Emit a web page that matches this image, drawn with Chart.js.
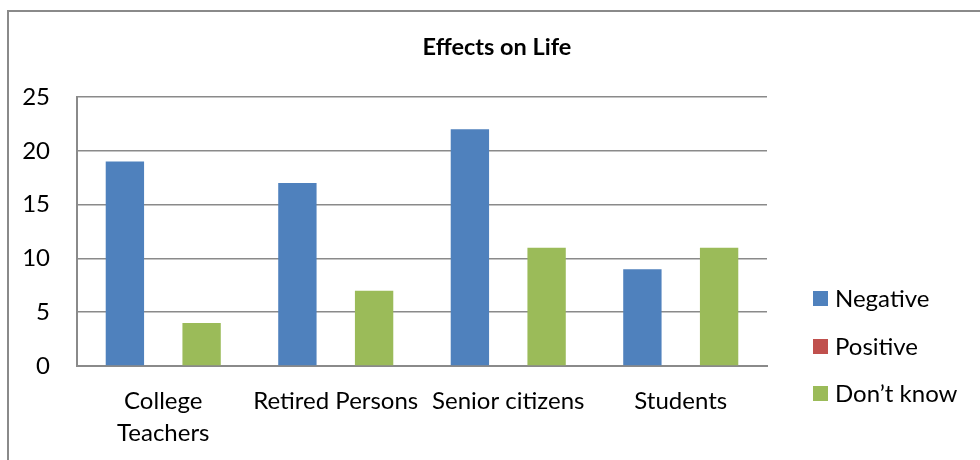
<!DOCTYPE html>
<html>
<head>
<meta charset="utf-8">
<script src="https://cdn.jsdelivr.net/npm/chart.js@4/dist/chart.umd.min.js"></script>
<style>
  html, body { margin: 0; padding: 0; background: #fff; overflow: hidden; }
  #wrap { position: relative; width: 980px; height: 460px; }
  #frame { position: absolute; left: 7px; top: 10px; width: 1000px; height: 500px;
           border-left: 2px solid #8a8a8a; border-top: 2px solid #8a8a8a; box-sizing: border-box; }
  canvas { position: absolute; left: 0; top: 0; }
</style>
</head>
<body>
<div id="wrap">
  <div id="frame"></div>
  <canvas id="c" width="980" height="460"></canvas>
</div>
<script>
const chartTitle = 'Effects on Life';
const categories = [['College', 'Teachers'], 'Retired Persons', 'Senior citizens', 'Students'];
const seriesNames = ['Negative', 'Positive', 'Don\u2019t know'];
const negative = [19, 17, 22, 9];
const positive = [0, 0, 0, 0];
const dontKnow = [4, 7, 11, 11];
const yTicks = [0, 5, 10, 15, 20, 25];
const colors = ['#4F81BD', '#C0504D', '#9BBB59'];

const FONT = 'Lato, "Open Sans", sans-serif';

const customDraw = {
  id: 'customDraw',
  afterDraw(chart) {
    const ctx = chart.ctx;
    ctx.save();
    // title
    ctx.fillStyle = '#000';
    ctx.font = 'bold 23.5px ' + FONT;
    ctx.textAlign = 'center';
    ctx.textBaseline = 'middle';
    ctx.fillText(chartTitle, 497, 47);
    // legend
    ctx.font = '24px ' + FONT;
    ctx.textAlign = 'left';
    const ys = [298, 346, 393];
    chart.data.datasets.forEach((ds, i) => {
      ctx.fillStyle = ds.backgroundColor;
      ctx.fillRect(813, ys[i] - 7, 15, 15);
      ctx.fillStyle = '#000';
      ctx.fillText(ds.label, 835, ys[i] + 1);
    });
    ctx.restore();
  }
};

new Chart(document.getElementById('c'), {
  type: 'bar',
  data: {
    labels: categories,
    datasets: [
      { label: seriesNames[0], data: negative, backgroundColor: colors[0] },
      { label: seriesNames[1], data: positive, backgroundColor: colors[1] },
      { label: seriesNames[2], data: dontKnow, backgroundColor: colors[2] }
    ]
  },
  options: {
    responsive: false,
    animation: false,
    devicePixelRatio: 1,
    layout: { padding: { top: 97, right: 213, left: 0, bottom: 0 } },
    datasets: { bar: { categoryPercentage: 0.667, barPercentage: 1.0 } },
    plugins: { legend: { display: false }, title: { display: false }, tooltip: { enabled: false } },
    scales: {
      x: {
        grid: { display: false, drawTicks: false },
        border: { display: true, color: '#8a8a8a', width: 2 },
        ticks: { color: '#000', font: { family: FONT, size: 24, lineHeight: 1.33 }, padding: 19, maxRotation: 0, autoSkip: false },
        afterFit(scale) { scale.height = 94; }
      },
      y: {
        min: 0, max: 25,
        afterBuildTicks(scale) { scale.ticks = yTicks.map(v => ({ value: v })); },
        grid: { color: '#8a8a8a', lineWidth: 1.5, drawTicks: false },
        border: { display: true, color: '#8a8a8a', width: 2 },
        ticks: { color: '#000', font: { family: FONT, size: 24 }, padding: 27 },
        afterFit(scale) { scale.width = 77; }
      }
    }
  },
  plugins: [customDraw]
});
</script>
</body>
</html>
